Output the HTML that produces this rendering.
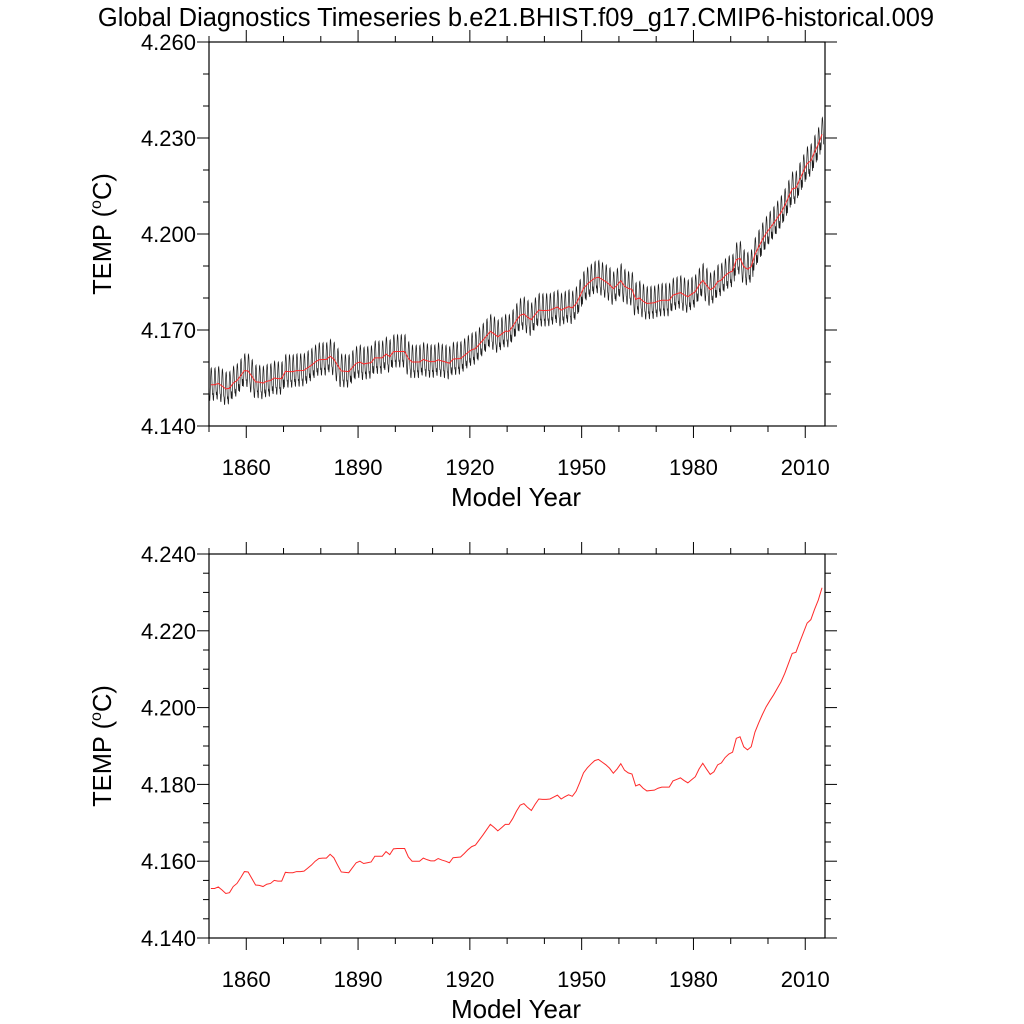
<!DOCTYPE html>
<html><head><meta charset="utf-8"><style>
html,body{margin:0;padding:0;background:#fff;}
svg{display:block;font-family:"Liberation Sans",Arial,sans-serif;}
</style></head><body>
<svg id="chart" width="1024" height="1024" viewBox="0 0 1024 1024">
<rect width="1024" height="1024" fill="#fff"/>
<text x="516" y="26" font-size="25.5" text-anchor="middle">Global Diagnostics Timeseries b.e21.BHIST.f09_g17.CMIP6-historical.009</text>
<g id="p1"></g>
<g id="p2"></g>
</svg>
<script>
// annual mean TEMP anomalies above 4.140, in thousandths of a degree (1850..2014)
const startYear = 1850;
const annualMilli = [12.9,12.9,13.3,12.5,11.6,11.8,13.4,14.2,15.7,17.3,
17.2,15.5,13.8,13.7,13.4,14.0,14.2,15.0,14.8,14.8,
17.1,17.0,17.0,17.3,17.3,17.4,18.2,19.0,20.0,20.7,
20.8,20.8,21.8,20.9,19.0,17.2,17.1,17.0,18.3,19.6,
20.0,19.4,19.6,19.8,21.3,21.3,21.3,22.5,21.7,23.2,
23.3,23.3,23.3,21.1,20.0,20.0,20.0,20.8,20.4,20.1,
20.1,20.7,20.3,20.0,19.6,20.9,21.0,21.1,22.0,23.0,
23.8,24.2,25.5,26.8,28.2,29.6,28.8,27.9,28.7,29.6,
29.6,31.1,33.0,34.6,35.0,34.0,33.2,34.8,36.2,36.1,
36.1,36.2,36.7,37.2,36.2,36.8,37.3,36.9,38.2,40.5,
43.0,44.3,45.3,46.2,46.5,45.8,45.1,44.2,42.9,44.0,
45.4,43.7,43.0,42.7,39.6,40.0,39.0,38.3,38.4,38.5,
39.0,39.3,39.3,39.3,40.9,41.3,41.7,41.0,40.4,41.2,
42.0,44.0,45.5,44.0,42.6,43.3,45.1,45.6,47.0,47.9,
48.4,52.0,52.4,49.8,49.0,49.8,53.6,56.0,58.2,60.2,
61.8,63.3,65.0,66.7,68.9,71.5,74.1,74.4,77.0,79.5,
82.0,82.9,85.6,88.0,91.2];
// mean seasonal cycle (thousandths), Jan..Dec
const seasonalMilli = [-2.6,-4.6,-5.0,-3.2,-0.2,2.8,5.0,5.2,4.0,1.2,-1.4,-3.2];
const xTickYears = [1860,1890,1920,1950,1980,2010];
const yTicksTop = ["4.140","4.170","4.200","4.230","4.260"];
const yTicksBottom = ["4.140","4.160","4.180","4.200","4.220","4.240"];

const NS="http://www.w3.org/2000/svg";
function mk(parent,tag,attrs){const e=document.createElementNS(NS,tag);for(const k in attrs)e.setAttribute(k,attrs[k]);parent.appendChild(e);return e;}

function panel(g,top,ymin,ymax,ymajor,yminor,yLabels,monthly){
  const L=209,R=825,T=top,B=top+384;
  const x0=1850,x1=2015.3;
  const X=v=>L+(v-x0)/(x1-x0)*(R-L);
  const Y=v=>B-(v-ymin)/(ymax-ymin)*(B-T);
  if(monthly){
    let d="";
    annualMilli.forEach((a,i)=>{seasonalMilli.forEach((s,m)=>{
      const t=startYear+i+(m+0.5)/12;
      const v=4.140+(a+s)/1000;
      d+=(d?"L":"M")+X(t).toFixed(2)+","+Y(v).toFixed(2);
    });});
    const p=mk(g,"path",{d:d,fill:"none",stroke:"#1a1a1a","stroke-width":"0.7"});
    
    
  }
  let d2="";
  annualMilli.forEach((a,i)=>{const v=4.140+a/1000;d2+=(d2?"L":"M")+X(startYear+i+0.5).toFixed(2)+","+Y(v).toFixed(2);});
  const ap=mk(g,"path",{d:d2,fill:"none",stroke:"#ff2a2a","stroke-width":"1"});
  
  
  const fr=mk(g,"rect",{x:L,y:T,width:R-L,height:B-T,fill:"none",stroke:"#000","stroke-width":"1.2"});
  
  
  for(let yr=1850;yr<=2015;yr+=10){
    const major=xTickYears.includes(yr);const len=major?12:6;const x=X(yr);
    mk(g,"line",{x1:x,x2:x,y1:B,y2:B+len,stroke:"#000","stroke-width":"1"});
    mk(g,"line",{x1:x,x2:x,y1:T,y2:T-len,stroke:"#000","stroke-width":"1"});
  }
  xTickYears.forEach(yr=>{
    const t=mk(g,"text",{x:X(yr),y:B+49,"font-size":"22","text-anchor":"middle"});
    t.textContent=yr;
    
    
  });
  const n=Math.round((ymax-ymin)/yminor);
  for(let i=0;i<=n;i++){
    const v=ymin+i*yminor;const y=Y(v);
    const major=Math.abs(((v-ymin)/ymajor)-Math.round((v-ymin)/ymajor))<1e-6;const len=major?12:6;
    mk(g,"line",{x1:L-len,x2:L,y1:y,y2:y,stroke:"#000","stroke-width":"1"});
    mk(g,"line",{x1:R,x2:R+len,y1:y,y2:y,stroke:"#000","stroke-width":"1"});
  }
  yLabels.forEach(s=>{
    const t=mk(g,"text",{x:L-13,y:Y(parseFloat(s))+8,"font-size":"22","text-anchor":"end"});
    t.textContent=s;
    
    
  });
  const xt=mk(g,"text",{x:516,y:B+80,"font-size":"26","text-anchor":"middle"});
  xt.textContent="Model Year";
  
  
  const yt=mk(g,"text",{x:0,y:0,"font-size":"25.5","text-anchor":"middle",transform:"translate(111,"+((T+B)/2)+") rotate(-90)"});
  yt.innerHTML='TEMP (<tspan font-size="16" dy="-10">o</tspan><tspan dy="10">C)</tspan>';
  
  
}
panel(document.getElementById("p1"),42,4.140,4.260,0.03,0.01,yTicksTop,true);
panel(document.getElementById("p2"),554,4.140,4.240,0.02,0.005,yTicksBottom,false);
</script>
</body></html>
